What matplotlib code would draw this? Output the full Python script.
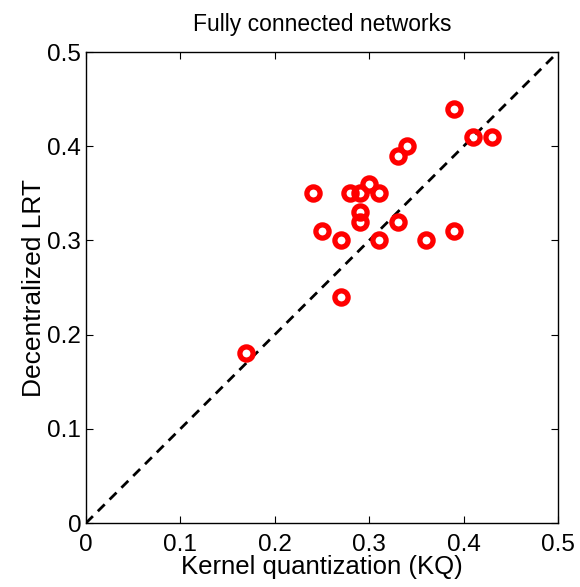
import numpy as np
import matplotlib
matplotlib.use("Agg")
import matplotlib.pyplot as plt

plt.rcParams['font.family'] = ['Liberation Sans', 'DejaVu Sans']

# Kernel quantization (KQ) vs decentralized LRT, one point per network
kq = [0.17, 0.24, 0.25, 0.27, 0.27, 0.28, 0.29, 0.29, 0.29, 0.30,
      0.31, 0.31, 0.33, 0.33, 0.34, 0.36, 0.39, 0.39, 0.41, 0.43]
lrt = [0.18, 0.35, 0.31, 0.30, 0.24, 0.35, 0.35, 0.33, 0.32, 0.36,
       0.35, 0.30, 0.32, 0.39, 0.40, 0.30, 0.44, 0.31, 0.41, 0.41]
diag = [0, 0.5]
ticks = [0, 0.1, 0.2, 0.3, 0.4, 0.5]
tick_labels = ["0", "0.1", "0.2", "0.3", "0.4", "0.5"]

fig = plt.figure(figsize=(5.8, 5.87), dpi=100)
ax = fig.add_axes([0.1483, 0.109, 0.8138, 0.8024])

# y = x reference line
ax.plot(diag, diag, "k--", linewidth=2, dashes=(3.5, 2.5))
ax.plot(kq, lrt, "o", markerfacecolor="none", markeredgecolor="red",
        markersize=9.5, markeredgewidth=3.8, linestyle="none")

ax.set_xlim(0, 0.5)
ax.set_ylim(0, 0.5)
ax.set_xticks(ticks)
ax.set_xticklabels(tick_labels)
ax.set_yticks(ticks)
ax.set_yticklabels(tick_labels)
ax.tick_params(direction="in", top=True, right=True, labelsize=17.5, length=5)
ax.tick_params(axis="x", pad=8)
ax.tick_params(axis="y", pad=3.5)
for s in ax.spines.values():
    s.set_linewidth(1)

ax.set_xlabel("Kernel quantization (KQ)", fontsize=18.5, labelpad=-1)
ax.set_ylabel("Decentralized LRT", fontsize=19, labelpad=1)
ax.set_title("Fully connected networks", fontsize=16.5, pad=15)

fig.savefig("out.png", dpi=100)
